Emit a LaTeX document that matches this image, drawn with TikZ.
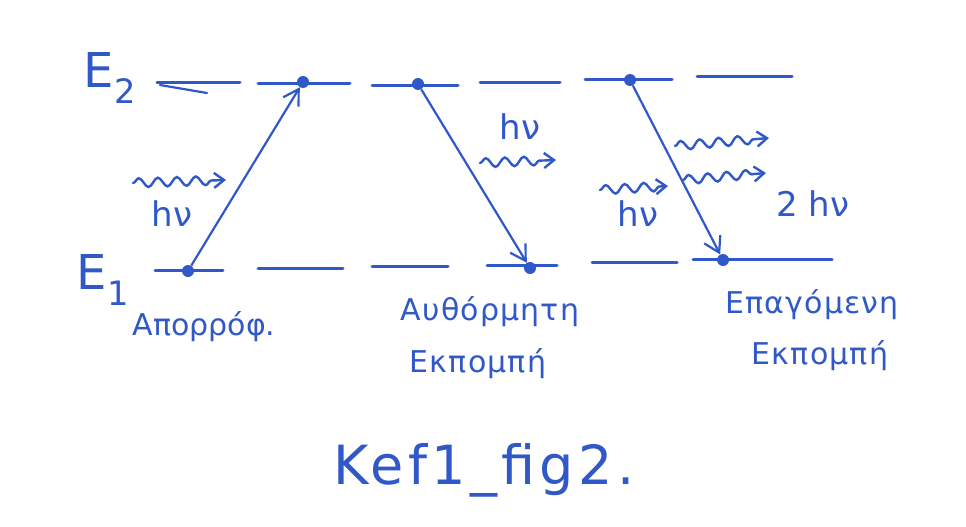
\documentclass[tikz,border=0pt]{standalone}
\usepackage{fontspec}
\setmainfont{DejaVu Sans}
\usetikzlibrary{arrows.meta,decorations.pathmorphing}
\definecolor{ink}{RGB}{48,88,200}
\begin{document}
\begin{tikzpicture}[x=1pt,y=-1pt,
  level/.style={draw=ink,line width=3pt,line cap=round},
  dot/.style={circle,fill=ink,inner sep=0pt,minimum size=12pt},
  trans/.style={draw=ink,line width=2.2pt,-{Straight Barb[length=15pt,width=18pt,line width=2.2pt]}},
  photon/.style={draw=ink,line width=2.4pt,line cap=round,decorate,
    decoration={snake,amplitude=4.5pt,segment length=19pt,post length=8pt},
    -{Straight Barb[length=10pt,width=15pt,line width=2.4pt]}},
  lbl/.style={text=ink,font=\fontsize{30}{34}\selectfont\addfontfeatures{LetterSpace=4},inner sep=0pt},
  hnu/.style={text=ink,font=\fontsize{34}{38}\selectfont,inner sep=0pt},
  elev/.style={text=ink,font=\fontsize{48}{52}\selectfont,inner sep=0pt},
  title/.style={text=ink,font=\fontsize{54}{60}\selectfont\addfontfeatures{LetterSpace=8},inner sep=0pt}]
\fill[white] (0,0) rectangle (966,527);
\useasboundingbox (0,0) rectangle (966,527);
% energy levels
\node[elev] (E2) at (110,78) {E\textsubscript{2}};
\node[elev] (E1) at (103,280) {E\textsubscript{1}};
% upper level segments
\draw[level] (157,82) -- (240,82);
\draw[ink,line width=2.2pt,line cap=round] (160,85) -- (207,93);
\draw[level] (258,83) -- (350,83);
\draw[level] (372,85) -- (458,85);
\draw[level] (480,82) -- (560,82);
\draw[level] (585,79) -- (672,79);
\draw[level] (697,76) -- (792,76);
% lower level segments
\draw[level] (155,270) -- (223,270);
\draw[level] (258,268) -- (343,268);
\draw[level] (372,266) -- (448,266);
\draw[level] (487,265) -- (557,265);
\draw[level] (592,262) -- (677,262);
\draw[level] (693,259) -- (832,259);
% electrons
\node[dot] (a1) at (188,271) {};
\node[dot] (a2) at (303,82) {};
\node[dot] (s1) at (418,84) {};
\node[dot] (s2) at (530,268) {};
\node[dot] (t1) at (630,80) {};
\node[dot] (t2) at (723,260) {};
% transitions
\draw[trans] (a1) -- (a2);
\draw[trans] (s1) -- (s2);
\draw[trans] (t1) -- (t2);
% photons
\coordinate (p1s) at (133,183); \coordinate (p1e) at (226,180);
\coordinate (p2s) at (480,163); \coordinate (p2e) at (556,160);
\coordinate (p3s) at (600,190); \coordinate (p3e) at (668,186);
\coordinate (p4s) at (675,146); \coordinate (p4e) at (769,138);
\coordinate (p5s) at (683,180); \coordinate (p5e) at (766,173);
\draw[photon] (p1s) -- (p1e);
\draw[photon] (p2s) -- (p2e);
\draw[photon] (p3s) -- (p3e);
\draw[photon] (p4s) -- (p4e);
\draw[photon] (p5s) -- (p5e);
\node[hnu] (h1) at (172,214) {hν};
\node[hnu] (h2) at (520,127) {hν};
\node[hnu] (h3) at (638,214) {hν};
\node[hnu] (h4) at (813,204) {2 hν};
% process labels
\node[lbl,font=\fontsize{30}{34}\selectfont] (L1) at (204,327) {Απορρόφ.};
\node[lbl] (L2a) at (490,312) {Αυθόρμητη};
\node[lbl] (L2b) at (478,364) {Εκπομπή};
\node[lbl] (L3a) at (812,305) {Επαγόμενη};
\node[lbl] (L3b) at (820,356) {Εκπομπή};
% title
\node[title] (T) at (484,470) {Kef1\_fig2.};
\end{tikzpicture}
\end{document}
